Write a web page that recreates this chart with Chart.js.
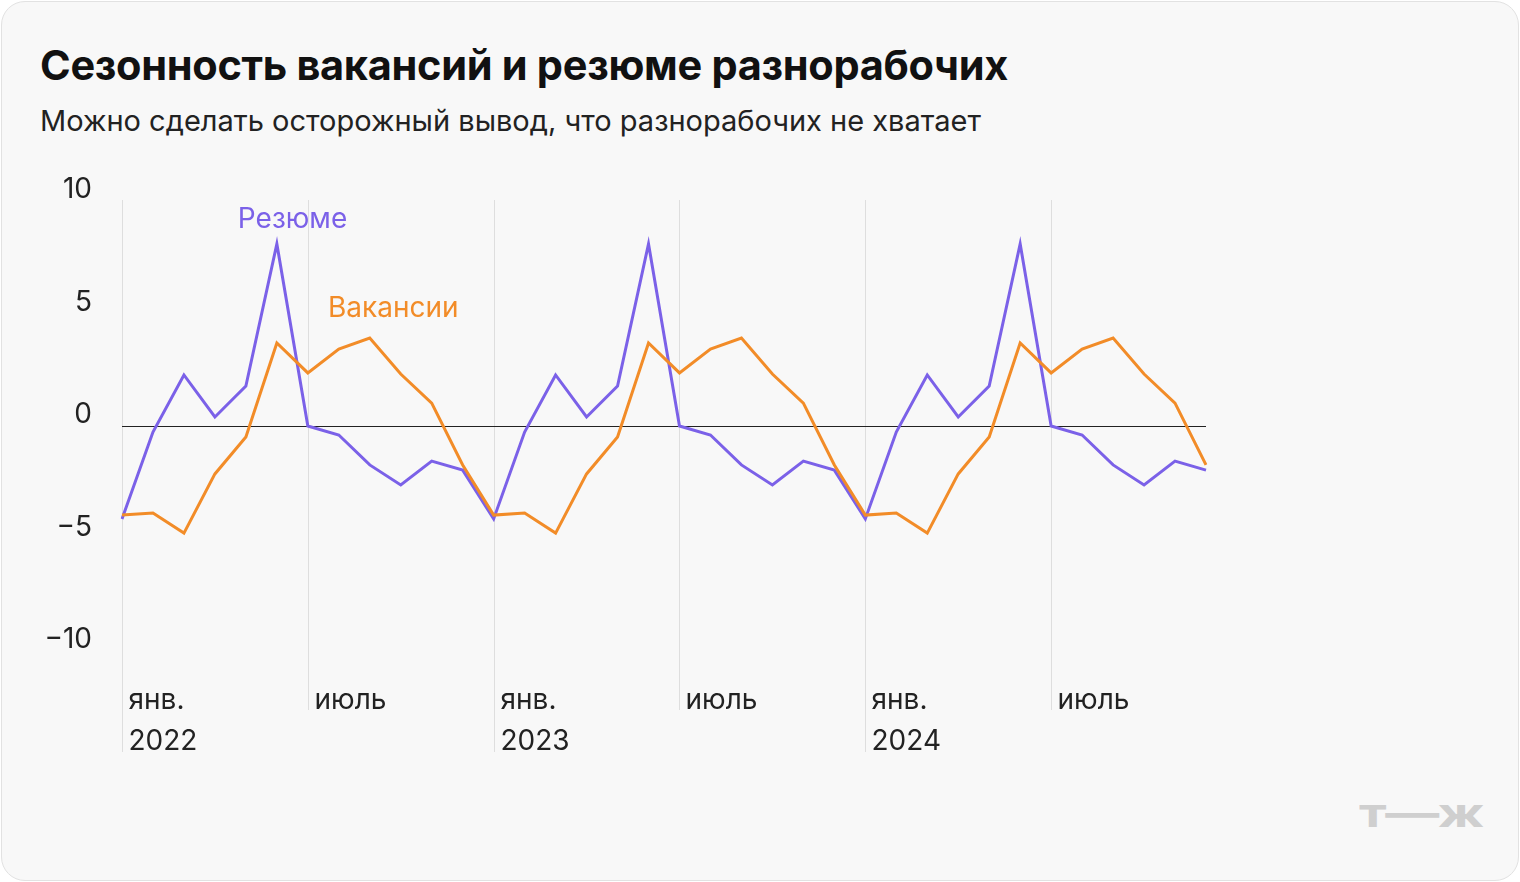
<!DOCTYPE html>
<html><head><meta charset="utf-8">
<script src="https://cdn.jsdelivr.net/npm/chart.js@4"></script>
<style>
body{margin:0;background:#fff;font-family:Inter,"Noto Sans",sans-serif}
#card{position:absolute;left:1px;top:1px;width:1516px;height:878px;border:1px solid #e2e2e2;border-radius:24px;background:#f8f8f8;overflow:hidden}
h1{position:absolute;left:38px;top:38px;margin:0;font-size:41.5px;font-weight:700;color:#111;letter-spacing:-0.3px}
p{position:absolute;left:38px;top:101px;margin:0;font-size:29px;color:#222}
#logo{position:absolute;left:1357px;top:786px;font-size:40px;font-weight:700;color:#cfcfcf;letter-spacing:-1px;transform:scaleX(1.35);transform-origin:left}
canvas{position:absolute;left:-2px;top:-2px}
</style></head><body>
<div id="card">
<h1>Сезонность вакансий и резюме разнорабочих</h1>
<p>Можно сделать осторожный вывод, что разнорабочих не хватает</p>
<div id="logo">т—ж</div>
<canvas id="c" width="1520" height="882"></canvas>
</div>
<script>
const years = ['2022', '2023', '2024'];
const resumeYear = [-4.13, -0.27, 2.27, 0.4, 1.78, 8.09, 0, -0.4, -1.73, -2.62, -1.56, -1.96];
const vacancyYear = [-3.96, -3.87, -4.76, -2.13, -0.49, 3.69, 2.36, 3.42, 3.91, 2.31, 1.02, -1.73];
const yTicks = [10, 5, 0, -5, -10];
const yTickLabels = ['10', '5', '0', '−5', '−10'];

const labels = [];
const resume = [];
const vacancy = [];
years.forEach(y => {
  for (let m = 0; m < 12; m++) {
    labels.push(y + '-' + (m + 1));
    resume.push(resumeYear[m]);
    vacancy.push(vacancyYear[m]);
  }
});

const decor = {
  id: 'decor',
  beforeDatasetsDraw(chart) {
    const ctx = chart.ctx, x = chart.scales.x, y = chart.scales.y;
    ctx.save();
    ctx.font = '28px Inter, "Noto Sans", sans-serif';
    ctx.fillStyle = '#222';
    ctx.textAlign = 'right';
    ctx.textBaseline = 'middle';
    yTicks.forEach((v, i) => ctx.fillText(yTickLabels[i], 92, y.getPixelForValue(v) - 11));
    ctx.textAlign = 'left';
    ctx.textBaseline = 'alphabetic';
    labels.forEach((l, i) => {
      const m = i % 12;
      if (m !== 0 && m !== 6) return;
      const px = Math.round(x.getPixelForValue(i)) + 0.5;
      ctx.strokeStyle = '#dedede';
      ctx.lineWidth = 1;
      ctx.beginPath();
      ctx.moveTo(px, 200);
      ctx.lineTo(px, m === 0 ? 752 : 710);
      ctx.stroke();
      ctx.fillStyle = '#222';
      if (m === 0) {
        ctx.fillText('янв.', px + 6, 709);
        ctx.fillText(years[Math.floor(i / 12)], px + 6, 750);
      } else {
        ctx.fillText('июль', px + 6, 709);
      }
    });
    const z = Math.round(y.getPixelForValue(0)) + 0.5;
    ctx.strokeStyle = '#222';
    ctx.beginPath();
    ctx.moveTo(x.left, z);
    ctx.lineTo(x.right, z);
    ctx.stroke();
    ctx.font = '28px Inter, "Noto Sans", sans-serif';
    ctx.fillStyle = '#7b61e8';
    ctx.textBaseline = 'middle';
    ctx.fillText('Резюме', x.getPixelForValue(3.74), y.getPixelForValue(9.16));
    ctx.fillStyle = '#f28c28';
    ctx.fillText('Вакансии', x.getPixelForValue(6.65), y.getPixelForValue(5.24));
    ctx.restore();
  }
};

new Chart(document.getElementById('c'), {
  type: 'line',
  data: {
    labels: labels,
    datasets: [
      { label: 'Вакансии', data: vacancy, borderColor: '#f28c28', borderWidth: 3, pointRadius: 0, tension: 0 },
      { label: 'Резюме', data: resume, borderColor: '#7b61e8', borderWidth: 3, pointRadius: 0, tension: 0 }
    ]
  },
  options: {
    responsive: false,
    animation: false,
    layout: { padding: { left: 122, right: 314, top: 201, bottom: 231 } },
    plugins: { legend: { display: false }, tooltip: { enabled: false } },
    scales: {
      x: { display: false, offset: false },
      y: { display: false, min: -10, max: 10 }
    }
  },
  plugins: [decor]
});
</script>
</body></html>
